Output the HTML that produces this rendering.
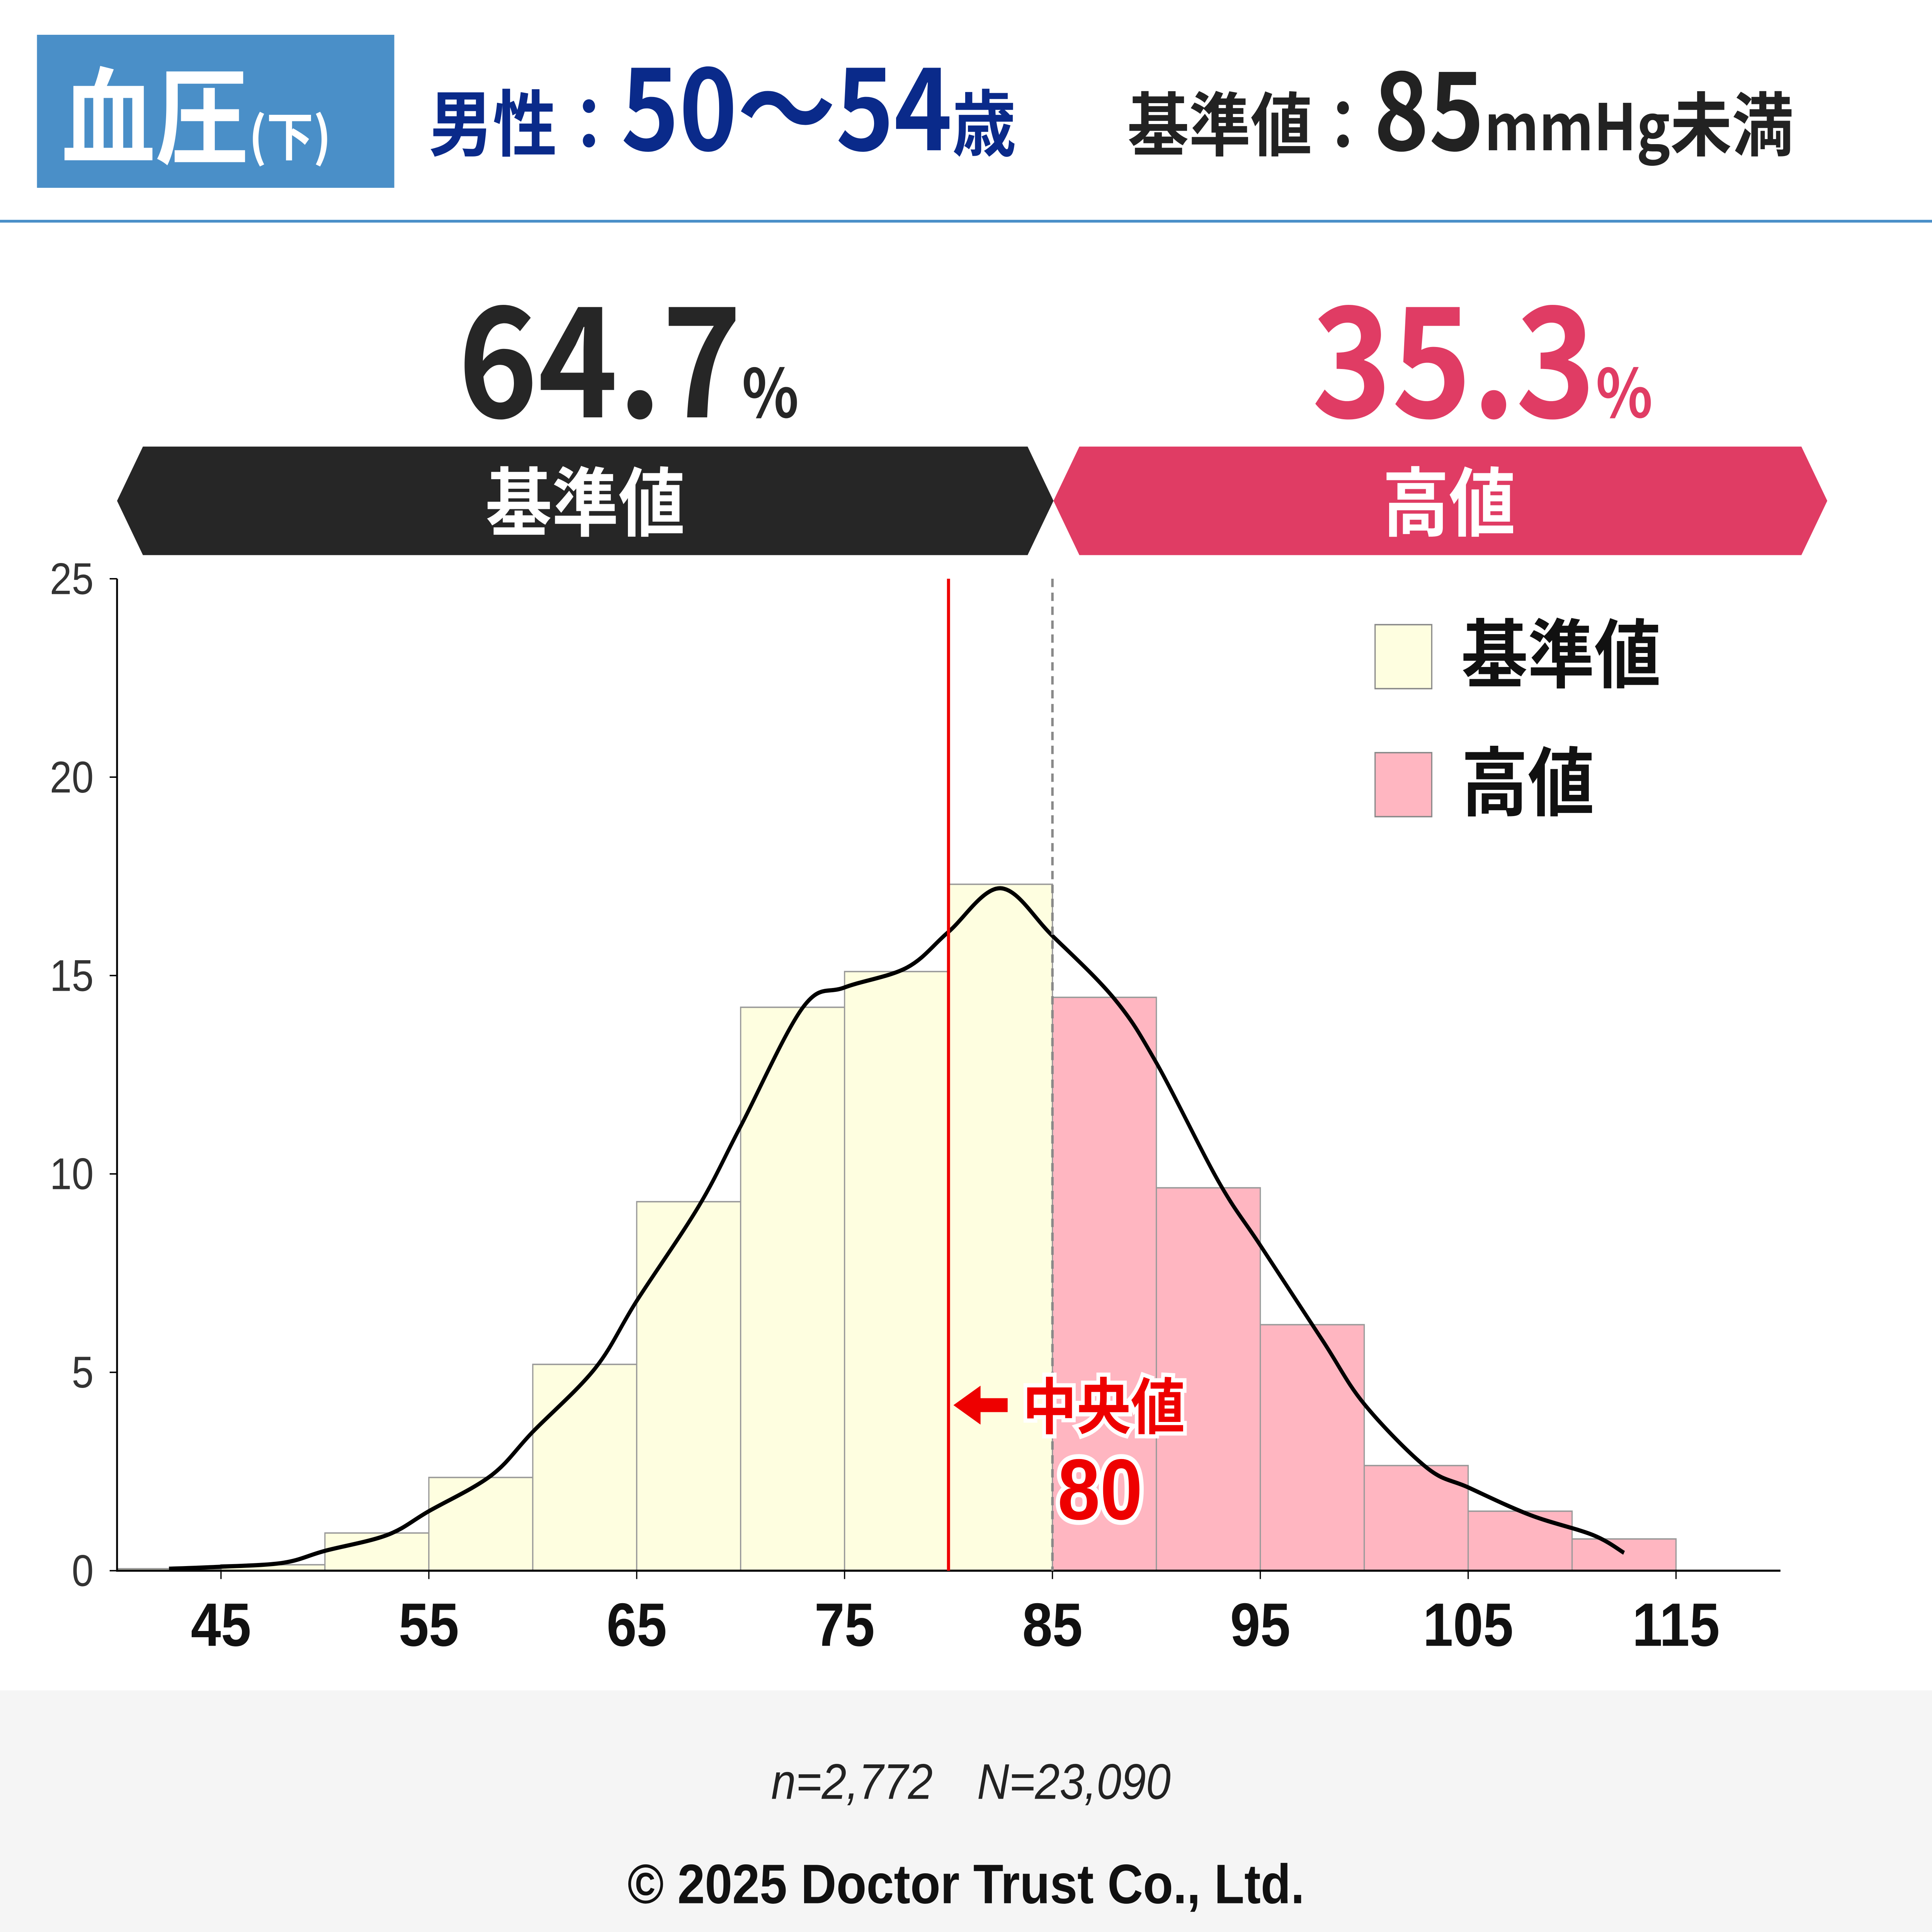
<!DOCTYPE html>
<html><head><meta charset="utf-8"><style>
html,body{margin:0;padding:0;background:#fff;overflow:hidden;width:100vw;height:100vh}
svg{display:block;width:100vw;height:100vh}
text{font-family:"Liberation Sans","Noto Sans CJK JP",sans-serif}
.cjk{font-family:"Noto Sans CJK JP","Liberation Sans",sans-serif}
</style></head><body>
<svg id="chart" viewBox="0 0 1568 1388.7" preserveAspectRatio="none" xmlns="http://www.w3.org/2000/svg">
<rect width="1568" height="1388.7" fill="#fff"/>
<g>
<rect x="30" y="25" width="290" height="110" fill="#4a8fc8"/>
<text class="cjk" x="50" y="112" font-size="76" font-weight="bold" fill="#fff">血圧<tspan font-size="38">(下)</tspan></text>
<text class="cjk" x="348" y="108" font-size="52" font-weight="bold" fill="#0a2a8a">男性：<tspan font-size="80">50〜54</tspan>歳</text>
<text class="cjk" x="915" y="108" font-size="50" font-weight="bold" fill="#222">基準値：<tspan font-size="76">85</tspan><tspan font-size="46">mmHg</tspan>未満</text>
<rect x="0" y="158" width="1568" height="2" fill="#4a8fc8"/>
</g>
<text class="cjk" x="510" y="300" text-anchor="middle" font-size="110" font-weight="bold" fill="#262626">64.7<tspan font-size="48">%</tspan></text>
<text class="cjk" x="1203" y="300" text-anchor="middle" font-size="110" font-weight="bold" fill="#e03c64">35.3<tspan font-size="48">%</tspan></text>
<polygon points="116,321 834,321 855,360 834,399 116,399 95,360" fill="#262626"/>
<text x="475" y="381" text-anchor="middle" font-size="54" font-weight="bold" fill="#fff">基準値</text>
<polygon points="876,321 1462,321 1483,360 1462,399 876,399 855,360" fill="#e03c64"/>
<text x="1176" y="381" text-anchor="middle" font-size="54" font-weight="bold" fill="#fff">高値</text>
<g id="plot"></g>
<g>
<rect x="1116" y="449" width="46" height="46" fill="#fefee0" stroke="#888"/>
<text x="1186" y="490" font-size="54" font-weight="bold" fill="#111">基準値</text>
<rect x="1116" y="541" width="46" height="46" fill="#ffb6c1" stroke="#888"/>
<text x="1186" y="582" font-size="54" font-weight="bold" fill="#111">高値</text>
</g>
<rect x="0" y="1215" width="1568" height="174" fill="#f5f5f5"/>
<text x="788" y="1293" text-anchor="middle" font-size="36" font-style="italic" fill="#222">n=2,772　N=23,090</text>
<text x="784" y="1368" text-anchor="middle" font-size="40" font-weight="bold" fill="#111">© 2025 Doctor Trust Co., Ltd.</text>
</svg>
<script>
const binStarts=[40,45,50,55,60,65,70,75,80,85,90,95,100,105,110];
const binValues=[0.05,0.15,0.95,2.35,5.2,9.3,14.2,15.1,17.3,14.45,9.65,6.2,2.65,1.5,0.8];
const kdeX=[42.5,45,48,50,53,55,58,60,63,65,68,70,73,75,78,80,82.5,85,88,90,93,95,98,100,103,105,108,111,112.5];
const kdeY=[0.05,0.1,0.2,0.5,0.9,1.5,2.4,3.5,5.1,6.8,9.2,11.2,14.2,14.7,15.2,16.1,17.2,16,14.4,12.8,9.8,8.2,5.8,4.2,2.6,2.1,1.4,0.9,0.45];
const yTicks=[0,5,10,15,20,25];
const xTicks=[45,55,65,75,85,95,105,115];
const threshold=85, median=80, binWidth=5;
const NS='http://www.w3.org/2000/svg';
const X=v=>95+(v-40)*16.87, Y=v=>1129-v*28.52;
const g=document.getElementById('plot');
function mk(t,a){const e=document.createElementNS(NS,t);for(const k in a)e.setAttribute(k,a[k]);g.appendChild(e);return e;}
binStarts.forEach((s,i)=>{
 const r=mk('rect',{x:X(s),y:Y(binValues[i]),width:X(s+binWidth)-X(s),height:Y(0)-Y(binValues[i]),fill:s>=threshold?'#ffb6c1':'#fefee0',stroke:'#999','stroke-width':1});
 
 
});
const P=kdeX.map((x,i)=>[X(x),Y(kdeY[i])]);
let d='M'+P[0][0]+','+P[0][1];
for(let i=0;i<P.length-1;i++){
 const p0=P[Math.max(0,i-1)],p1=P[i],p2=P[i+1],p3=P[Math.min(P.length-1,i+2)];
 d+=`C${p1[0]+(p2[0]-p0[0])/6},${p1[1]+(p2[1]-p0[1])/6} ${p2[0]-(p3[0]-p1[0])/6},${p2[1]-(p3[1]-p1[1])/6} ${p2[0]},${p2[1]}`;
}
const kde=mk('path',{d:d,fill:'none',stroke:'#000','stroke-width':3,'stroke-linejoin':'round'});


const ax=mk('path',{d:`M${X(40)},${Y(25)}V${Y(0)}H1445`,fill:'none',stroke:'#000','stroke-width':1.5});


yTicks.forEach(v=>{
 mk('line',{x1:X(40)-6,x2:X(40),y1:Y(v),y2:Y(v),stroke:'#000'});
 const t=mk('text',{x:76,y:Y(v)+11,'text-anchor':'end','font-size':32,fill:'#333'});t.textContent=v;
 
 
});
xTicks.forEach(v=>{
 mk('line',{x1:X(v),x2:X(v),y1:Y(0),y2:Y(0)+6,stroke:'#000'});
 const t=mk('text',{x:X(v),y:1183,'text-anchor':'middle','font-size':44,'font-weight':'bold',fill:'#111'});t.textContent=v;
 
 
});
const th=mk('line',{x1:X(threshold),x2:X(threshold),y1:Y(25),y2:Y(0),stroke:'#888','stroke-width':2,'stroke-dasharray':'6,4'});


const md=mk('line',{x1:X(median),x2:X(median),y1:Y(25),y2:Y(0),stroke:'#e00','stroke-width':2.5});


const ar=mk('path',{d:`M${X(median)+4},1010 l22,-14 v9 h22 v10 h-22 v9 z`,fill:'#e00'});


const ml=mk('text',{x:X(median)+60,y:1027,'font-size':44,'font-weight':'bold',fill:'#e00',stroke:'#fff','stroke-width':6,'paint-order':'stroke'});ml.textContent='中央値';


const mv=mk('text',{x:X(median)+123,y:1092,'text-anchor':'middle','font-size':62,'font-weight':'bold',fill:'#e00',stroke:'#fff','stroke-width':7,'paint-order':'stroke'});mv.textContent=median;


</script>
</body></html>
